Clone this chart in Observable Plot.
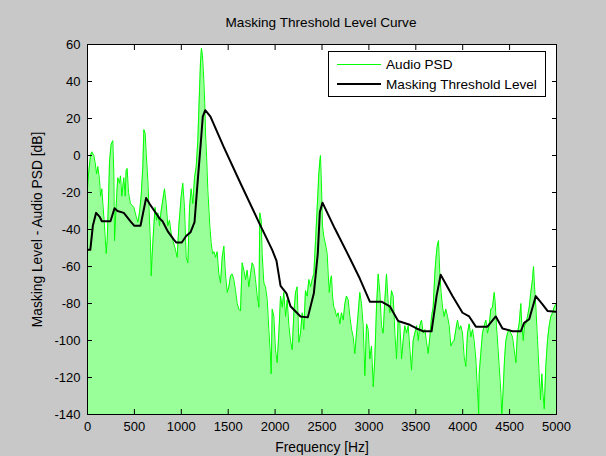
<!DOCTYPE html>
<html>
<head>
<meta charset="utf-8">
<script src="https://cdn.jsdelivr.net/npm/d3@7"></script>
<script src="https://cdn.jsdelivr.net/npm/@observablehq/plot@0.6"></script>
<style>
  html, body { margin: 0; padding: 0; background: #c8c8c8; }
  #fig { position: relative; width: 606px; height: 456px; font-family: "Liberation Sans", Arial, sans-serif; color: #000; }
  #title { height: 36px; box-sizing: border-box; padding-top: 15px; padding-left: 36px; text-align: center; font-size: 13.6px; line-height: 15px; }
  #legend { position: absolute; left: 328px; top: 51px; width: 216px; height: 44px; background: #fff; border: 1px solid #000; font-size: 13.6px; }
  #legend .row { position: absolute; left: 8px; height: 16px; display: flex; align-items: center; }
  #legend .sw { width: 44px; margin-right: 5px; }
  svg { display: block; }
  g[aria-label$="axis label"] { font-size: 13.8px; }
</style>
</head>
<body>
<div id="fig">
  <div id="title">Masking Threshold Level Curve</div>
  <div id="chart"></div>
  <div id="legend"></div>
</div>
<script>
// Axis ticks
const xTicks = [0, 500, 1000, 1500, 2000, 2500, 3000, 3500, 4000, 4500, 5000];
const yTicks = [-140, -120, -100, -80, -60, -40, -20, 0, 20, 40, 60];

// Audio power spectral density: frequency (Hz) and level (dB)
const psdFreq = [0,11,32,46,67,82,96,110,128,139,153,164,181,199,210,224,235,252,270,281,288,298,313,323,341,352,366,387,402,412,423,437,458,476,494,519,537,554,572,590,601,615,626,643,661,672,679,690,707,721,736,750,768,785,803,821,839,856,874,892,910,928,956,974,999,1016,1034,1052,1070,1088,1105,1123,1141,1159,1176,1194,1205,1215,1226,1240,1250,1260,1270,1283,1304,1318,1333,1348,1365,1382,1400,1418,1436,1454,1471,1489,1507,1525,1542,1560,1578,1596,1613,1631,1649,1667,1685,1702,1720,1738,1756,1773,1791,1809,1827,1837,1852,1862,1880,1898,1916,1933,1951,1958,1969,1987,2004,2022,2040,2058,2076,2093,2111,2129,2147,2164,2182,2200,2218,2235,2253,2271,2289,2306,2324,2342,2360,2378,2395,2413,2431,2449,2466,2477,2484,2495,2505,2520,2541,2555,2566,2577,2591,2601,2612,2626,2637,2655,2673,2690,2708,2726,2744,2761,2779,2797,2815,2832,2850,2868,2886,2903,2921,2939,2957,2975,2992,3010,3028,3046,3063,3081,3099,3117,3134,3152,3170,3188,3206,3223,3241,3259,3277,3294,3312,3330,3348,3365,3383,3401,3419,3437,3454,3472,3490,3508,3526,3543,3561,3579,3597,3614,3632,3650,3668,3685,3703,3714,3728,3742,3756,3770,3785,3802,3820,3838,3856,3874,3891,3909,3927,3945,3962,3980,3998,4016,4033,4051,4069,4087,4105,4122,4140,4158,4170,4176,4193,4211,4229,4247,4264,4282,4300,4318,4336,4346,4360,4375,4389,4407,4417,4431,4446,4460,4478,4495,4513,4531,4549,4567,4584,4602,4620,4630,4645,4659,4673,4691,4709,4726,4744,4755,4766,4780,4798,4815,4829,4844,4855,4869,4886,4904,4922,4940,4958,4975,5000];
const psdLevel = [-18,-10,0,2,0,-4,-10,-6,-13,-22,-18,-26,-38,-53,-46,-24,-3,6,8,-10,-46,-35,-20,-12,-15,-11,-22,-12,-22,-8,-7,-20,-26,-27,-28,-33,-36,-31,-22,-6,14,12,1,-13,-35,-49,-65,-53,-38,-28,-35,-31,-38,-30,-24,-18,-26,-38,-35,-42,-46,-49,-55,-38,-22,-15,-28,-55,-58,-28,-18,-26,-12,-6,8,35,51,58,54,41,28,10,-1,-19,-38,-47,-53,-52,-55,-52,-64,-69,-55,-49,-64,-74,-71,-65,-64,-67,-73,-80,-83,-84,-58,-62,-67,-62,-71,-64,-58,-60,-67,-76,-82,-31,-35,-53,-69,-71,-78,-94,-109,-118,-83,-87,-105,-112,-96,-76,-82,-74,-87,-78,-92,-100,-105,-85,-74,-71,-101,-96,-85,-94,-73,-76,-67,-71,-67,-64,-46,-28,-10,-3,0,-17,-38,-44,-49,-53,-64,-74,-67,-65,-76,-82,-83,-87,-85,-91,-85,-89,-80,-76,-78,-87,-94,-98,-107,-96,-85,-74,-80,-92,-119,-91,-94,-110,-103,-125,-110,-82,-64,-74,-92,-96,-78,-64,-80,-85,-73,-76,-96,-110,-89,-91,-110,-100,-92,-96,-92,-105,-116,-100,-96,-92,-100,-92,-89,-96,-94,-101,-107,-98,-87,-82,-64,-56,-49,-46,-64,-74,-82,-87,-83,-87,-92,-103,-101,-100,-94,-89,-94,-92,-96,-109,-114,-96,-91,-98,-94,-100,-110,-128,-140,-118,-107,-96,-92,-89,-96,-92,-83,-82,-74,-79,-92,-103,-114,-128,-140,-127,-110,-100,-96,-94,-96,-98,-105,-112,-96,-91,-80,-91,-100,-92,-91,-87,-82,-74,-67,-60,-71,-82,-100,-118,-132,-118,-128,-137,-114,-100,-92,-87,-85,-82,-80];

// Masking threshold level: frequency (Hz) and level (dB)
const maskFreq = [0,30,57,92,128,153,245,288,320,387,465,500,565,625,660,714,768,800,856,920,945,1005,1052,1098,1141,1176,1205,1229,1255,1311,1453,1631,1826,1969,2015,2058,2121,2164,2271,2349,2413,2455,2477,2505,2637,2797,2903,3010,3134,3223,3312,3436,3508,3579,3668,3721,3765,3891,3998,4069,4140,4264,4353,4424,4531,4620,4655,4709,4779,4851,4904,5000];
const maskLevel = [-51,-51,-38,-31,-33,-35.5,-35.5,-28.5,-30,-31,-36,-38,-38,-23,-26,-30,-34,-35.5,-41,-45.5,-47,-47,-43.5,-41.5,-36,-13,5,21,24.5,21,4.5,-15,-36,-51,-57,-70.5,-74.5,-81.5,-87,-87.5,-74.5,-53,-30.5,-25.5,-39.5,-55.5,-66.5,-79,-79,-81.5,-89.5,-91.5,-93.5,-95,-95,-76,-64.5,-76,-85,-87,-92.5,-92.5,-87,-93.5,-95,-95,-90.5,-88.5,-76,-80.5,-84,-84.5];

// Series names and colours shown in the legend
const seriesNames = ["Audio PSD", "Masking Threshold Level"];
const seriesColors = ["#00ff00", "#000000"];
const psdFill = "#99ff99";

const psd = psdFreq.map((f, i) => ({f, db: psdLevel[i]}));
const mask = maskFreq.map((f, i) => ({f, db: maskLevel[i]}));
const yMin = yTicks[0], yMax = yTicks[yTicks.length - 1];

const chart = Plot.plot({
  width: 606,
  height: 420,
  marginLeft: 87,
  marginRight: 50,
  marginTop: 8,
  marginBottom: 42,
  style: {background: "transparent", fontFamily: "'Liberation Sans', Arial, sans-serif", fontSize: "13px", color: "#000"},
  x: {domain: [xTicks[0], xTicks[xTicks.length - 1]]},
  y: {domain: [yMin, yMax]},
  marks: [
    Plot.frame({fill: "#ffffff", stroke: null}),
    Plot.areaY(psd, {x: "f", y1: yMin, y2: "db", fill: psdFill, clip: true}),
    Plot.lineY(psd, {x: "f", y: "db", stroke: seriesColors[0], strokeWidth: 1, clip: true}),
    Plot.lineY(mask, {x: "f", y: "db", stroke: seriesColors[1], strokeWidth: 2, clip: true}),
    Plot.frame({stroke: "#000"}),
    Plot.axisX({anchor: "bottom", ticks: xTicks, tickSize: -5, tickPadding: 12, tickFormat: d => String(d),
      label: "Frequency [Hz]", labelAnchor: "center", labelArrow: "none", labelOffset: 37}),
    Plot.axisX({anchor: "top", ticks: xTicks, tickSize: -5, fill: "none"}),
    Plot.axisY({anchor: "left", ticks: yTicks, tickSize: -5, tickPadding: 12, tickFormat: d => String(d),
      label: "Masking Level - Audio PSD [dB]", labelAnchor: "center", labelArrow: "none", labelOffset: 55}),
    Plot.axisY({anchor: "right", ticks: yTicks, tickSize: -5, fill: "none"})
  ]
});
document.getElementById("chart").append(chart);

// Legend box
const legend = document.getElementById("legend");
seriesNames.forEach((name, i) => {
  const row = document.createElement("div");
  row.className = "row";
  row.style.top = (i === 0 ? 4 : 24) + "px";
  const sw = document.createElement("span");
  sw.className = "sw";
  sw.style.borderTop = (i === 0 ? 1 : 2) + "px solid " + seriesColors[i];
  const label = document.createElement("span");
  label.textContent = name;
  row.append(sw, label);
  legend.append(row);
});
</script>
</body>
</html>
